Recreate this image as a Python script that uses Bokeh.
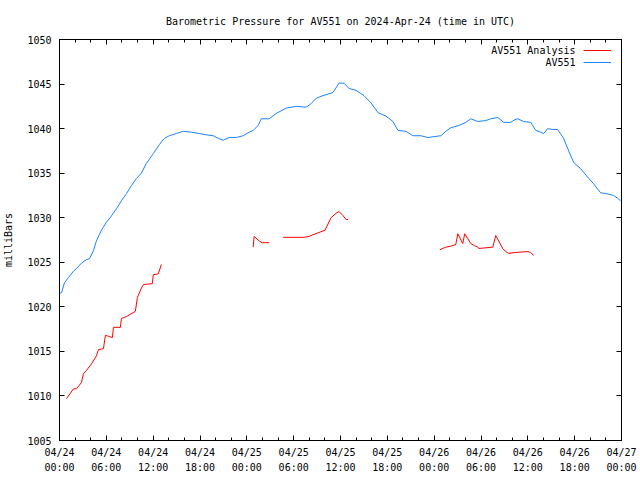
import numpy as np
import pandas as pd
from bokeh.plotting import figure
from bokeh.models import (Range1d, FixedTicker, DatetimeTickFormatter, DatetimeAxis,
                          LinearAxis, Legend, LegendItem, CustomJSTickFormatter, Label)
from bokeh.embed import file_html
from bokeh.resources import INLINE

# ---------------- data (hours after 2024-04-24 00:00 UTC, milliBars) ----------------
start_time = "2024-04-24 00:00"
end_hours = 72

blue_hours = [0.0, 0.26, 0.64, 1.15, 1.79, 2.17, 2.81, 3.45, 3.84, 4.35, 4.73, 5.37, 6.01,
              6.65, 7.29, 7.93, 8.57, 9.21, 9.85, 10.49, 11.13, 12.02, 12.79, 13.43, 14.07,
              14.96, 15.86, 16.88, 17.91, 18.80, 19.70, 20.34, 20.98, 21.74, 22.64, 23.53,
              24.30, 24.81, 25.45, 25.84, 26.86, 27.76, 29.04, 30.31, 31.59, 32.23, 32.87,
              33.76, 35.04, 35.81, 36.45, 37.09, 37.98, 39.01, 39.90, 40.80, 41.82, 42.72,
              43.36, 44.38, 45.28, 46.30, 47.19, 47.96, 48.85, 49.49, 50.13, 51.16, 52.05,
              52.69, 53.59, 54.61, 55.25, 56.15, 56.91, 57.81, 58.32, 58.70, 59.47, 60.37,
              61.01, 61.64, 62.03, 62.54, 63.18, 63.82, 64.59, 65.23, 65.87, 66.77, 67.53,
              68.43, 69.32, 70.09, 70.98, 71.49, 71.88]
blue_mb = [1021.5, 1021.6, 1022.7, 1023.3, 1024.0, 1024.3, 1024.9, 1025.3, 1025.4, 1026.3,
           1027.4, 1028.6, 1029.5, 1030.2, 1031.0, 1031.9, 1032.7, 1033.6, 1034.4, 1035.0,
           1036.1, 1037.2, 1038.2, 1038.9, 1039.2, 1039.45, 1039.7, 1039.6, 1039.45, 1039.3,
           1039.2, 1038.9, 1038.7, 1039.0, 1039.0, 1039.2, 1039.6, 1039.8, 1040.35, 1041.1,
           1041.1, 1041.7, 1042.3, 1042.5, 1042.4, 1042.8, 1043.4, 1043.7, 1044.05, 1045.1,
           1045.1, 1044.5, 1044.3, 1043.7, 1042.9, 1041.8, 1041.4, 1040.8, 1039.8, 1039.7,
           1039.2, 1039.2, 1039.0, 1039.1, 1039.2, 1039.7, 1040.1, 1040.35, 1040.7, 1041.1,
           1040.8, 1040.9, 1041.1, 1041.25, 1040.7, 1040.7, 1041.0, 1041.1, 1040.8, 1040.7,
           1039.8, 1039.6, 1039.45, 1040.0, 1039.9, 1039.9, 1038.9, 1037.5, 1036.2, 1035.5,
           1034.7, 1033.8, 1032.8, 1032.7, 1032.5, 1032.2, 1031.9]

red_segment_hours = [
    [0.90, 1.79, 2.17, 2.81, 3.07, 3.45, 4.09, 4.73, 4.99, 5.63, 5.88, 6.27, 6.78, 6.91,
     7.80, 7.93, 8.57, 9.72, 9.98, 10.49, 10.74, 11.89, 12.02, 12.66, 13.04],
    [24.81, 24.94, 25.58, 25.96, 26.86],
    [28.65, 31.33, 31.97, 32.49, 33.12, 34.02, 34.79, 35.43, 35.81, 36.32, 36.71, 36.96],
    [48.73, 49.49, 50.13, 50.77, 51.03, 51.66, 51.92, 52.69, 53.20, 53.59, 53.71, 55.51,
     55.89, 56.78, 57.17, 57.55, 58.45, 59.98, 60.37, 60.76],
]
red_segment_mb = [
    [1009.7, 1010.8, 1010.8, 1011.5, 1012.5, 1012.85, 1013.6, 1014.5, 1015.2, 1015.3,
     1016.8, 1016.7, 1016.55, 1017.7, 1017.7, 1018.7, 1018.9, 1019.5, 1021.05, 1022.1,
     1022.5, 1022.6, 1023.6, 1023.7, 1024.75],
    [1026.7, 1027.9, 1027.4, 1027.2, 1027.2],
    [1027.8, 1027.8, 1027.9, 1028.1, 1028.3, 1028.6, 1030.0, 1030.5, 1030.7, 1030.25,
     1029.8, 1029.8],
    [1026.4, 1026.7, 1026.8, 1027.0, 1028.2, 1027.1, 1028.2, 1027.1, 1026.85, 1026.7,
     1026.55, 1026.7, 1028.0, 1026.55, 1026.2, 1026.0, 1026.1, 1026.2, 1026.1, 1025.75],
]

y_ticks = [1005, 1010, 1015, 1020, 1025, 1030, 1035, 1040, 1045, 1050]
major_tick_hours = list(range(0, 73, 6))
minor_tick_hours = [h for h in range(0, 73, 2) if h % 6 != 0]

title_text = "Barometric Pressure for AV551 on 2024-Apr-24 (time in UTC)"
y_label = "milliBars"
series_labels = ["AV551 Analysis", "AV551"]
colors = ["#ff0000", "#1a84ff"]

# ---------------- build ----------------
t0 = pd.Timestamp(start_time)


def to_dt(hours):
    return t0 + pd.to_timedelta(np.asarray(hours, dtype=float), unit="h")


def to_ms(hours):
    return [(t0 + pd.Timedelta(hours=h)).value / 1e6 for h in hours]


red_x, red_y = [], []
for hs, vs in zip(red_segment_hours, red_segment_mb):
    if red_x:
        red_x.append(pd.NaT)
        red_y.append(np.nan)
    red_x.extend(list(to_dt(hs)))
    red_y.extend(vs)
red_x = pd.to_datetime(pd.Series(red_x)).values
red_y = np.array(red_y, dtype=float)

FONT = "DejaVu Sans Mono"
FS = "10px"

p = figure(width=640, height=480, x_axis_type="datetime",
           x_range=Range1d(t0, t0 + pd.Timedelta(hours=end_hours)),
           y_range=Range1d(1005, 1050),
           output_backend="svg", toolbar_location=None,
           min_border_left=58, min_border_right=19, min_border_top=39, min_border_bottom=40)

p.background_fill_color = "white"
p.border_fill_color = "white"
p.outline_line_color = "black"
p.outline_line_width = 1
p.xgrid.visible = False
p.ygrid.visible = False

r_red = p.line(red_x, red_y, line_color=colors[0], line_width=1)
r_blue = p.line(to_dt(blue_hours), blue_mb, line_color=colors[1], line_width=1)

xticker = FixedTicker(ticks=to_ms(major_tick_hours), minor_ticks=to_ms(minor_tick_hours))
yticker = FixedTicker(ticks=y_ticks, minor_ticks=[])

fmt = "%m/%d\n%H:%M"
xfmt = DatetimeTickFormatter(microseconds=fmt, milliseconds=fmt, seconds=fmt, minsec=fmt,
                             minutes=fmt, hourmin=fmt, hours=fmt, days=fmt, months=fmt, years=fmt)


def style(ax):
    ax.axis_line_color = "black"
    ax.major_tick_line_color = "black"
    ax.minor_tick_line_color = "black"
    ax.major_tick_in = 5
    ax.major_tick_out = 0
    ax.minor_tick_in = 3
    ax.minor_tick_out = 0
    ax.major_label_text_font = FONT
    ax.major_label_text_font_size = FS
    ax.major_label_text_color = "black"


xa = p.xaxis[0]
xa.ticker = xticker
xa.formatter = xfmt
style(xa)
xa.major_label_standoff = 6
xa.major_label_text_line_height = 1.4

ya = p.yaxis[0]
ya.ticker = yticker
style(ya)
ya.major_label_standoff = 8
ya.axis_label = y_label
ya.axis_label_text_font = FONT
ya.axis_label_text_font_size = FS
ya.axis_label_text_font_style = "normal"
ya.axis_label_text_color = "black"
ya.axis_label_standoff = 10

blank = CustomJSTickFormatter(code="return ''")
top = DatetimeAxis(ticker=xticker, formatter=blank, major_label_standoff=0)
style(top)
top.major_label_text_font_size = "0px"
p.add_layout(top, "above")
right = LinearAxis(ticker=yticker, formatter=blank, major_label_standoff=0)
style(right)
right.major_label_text_font_size = "0px"
p.add_layout(right, "right")

p.title.text = title_text
p.title.align = "center"
p.title.text_font = FONT
p.title.text_font_size = FS
p.title.text_font_style = "normal"
p.title.text_color = "black"
p.title.standoff = 25

# legend: line samples from a Legend, texts right-aligned to their left (gnuplot style)
legend = Legend(items=[LegendItem(label=" ", renderers=[r_red]),
                       LegendItem(label=" ", renderers=[r_blue])],
                location=(524, 372), orientation="vertical",
                glyph_width=28, glyph_height=12, label_height=12, spacing=0, padding=0,
                margin=0, label_standoff=0, label_width=0,
                label_text_font=FONT, label_text_font_size=FS,
                border_line_color=None, background_fill_alpha=0)
p.add_layout(legend, "center")
for i, lab in enumerate(series_labels):
    p.add_layout(Label(x=516, y=390 - 12 * i, x_units="screen", y_units="screen",
                       text=lab, text_align="right", text_baseline="middle",
                       text_font=FONT, text_font_size=FS, text_color="black"))

open("out.html", "w").write(file_html(p, INLINE))
